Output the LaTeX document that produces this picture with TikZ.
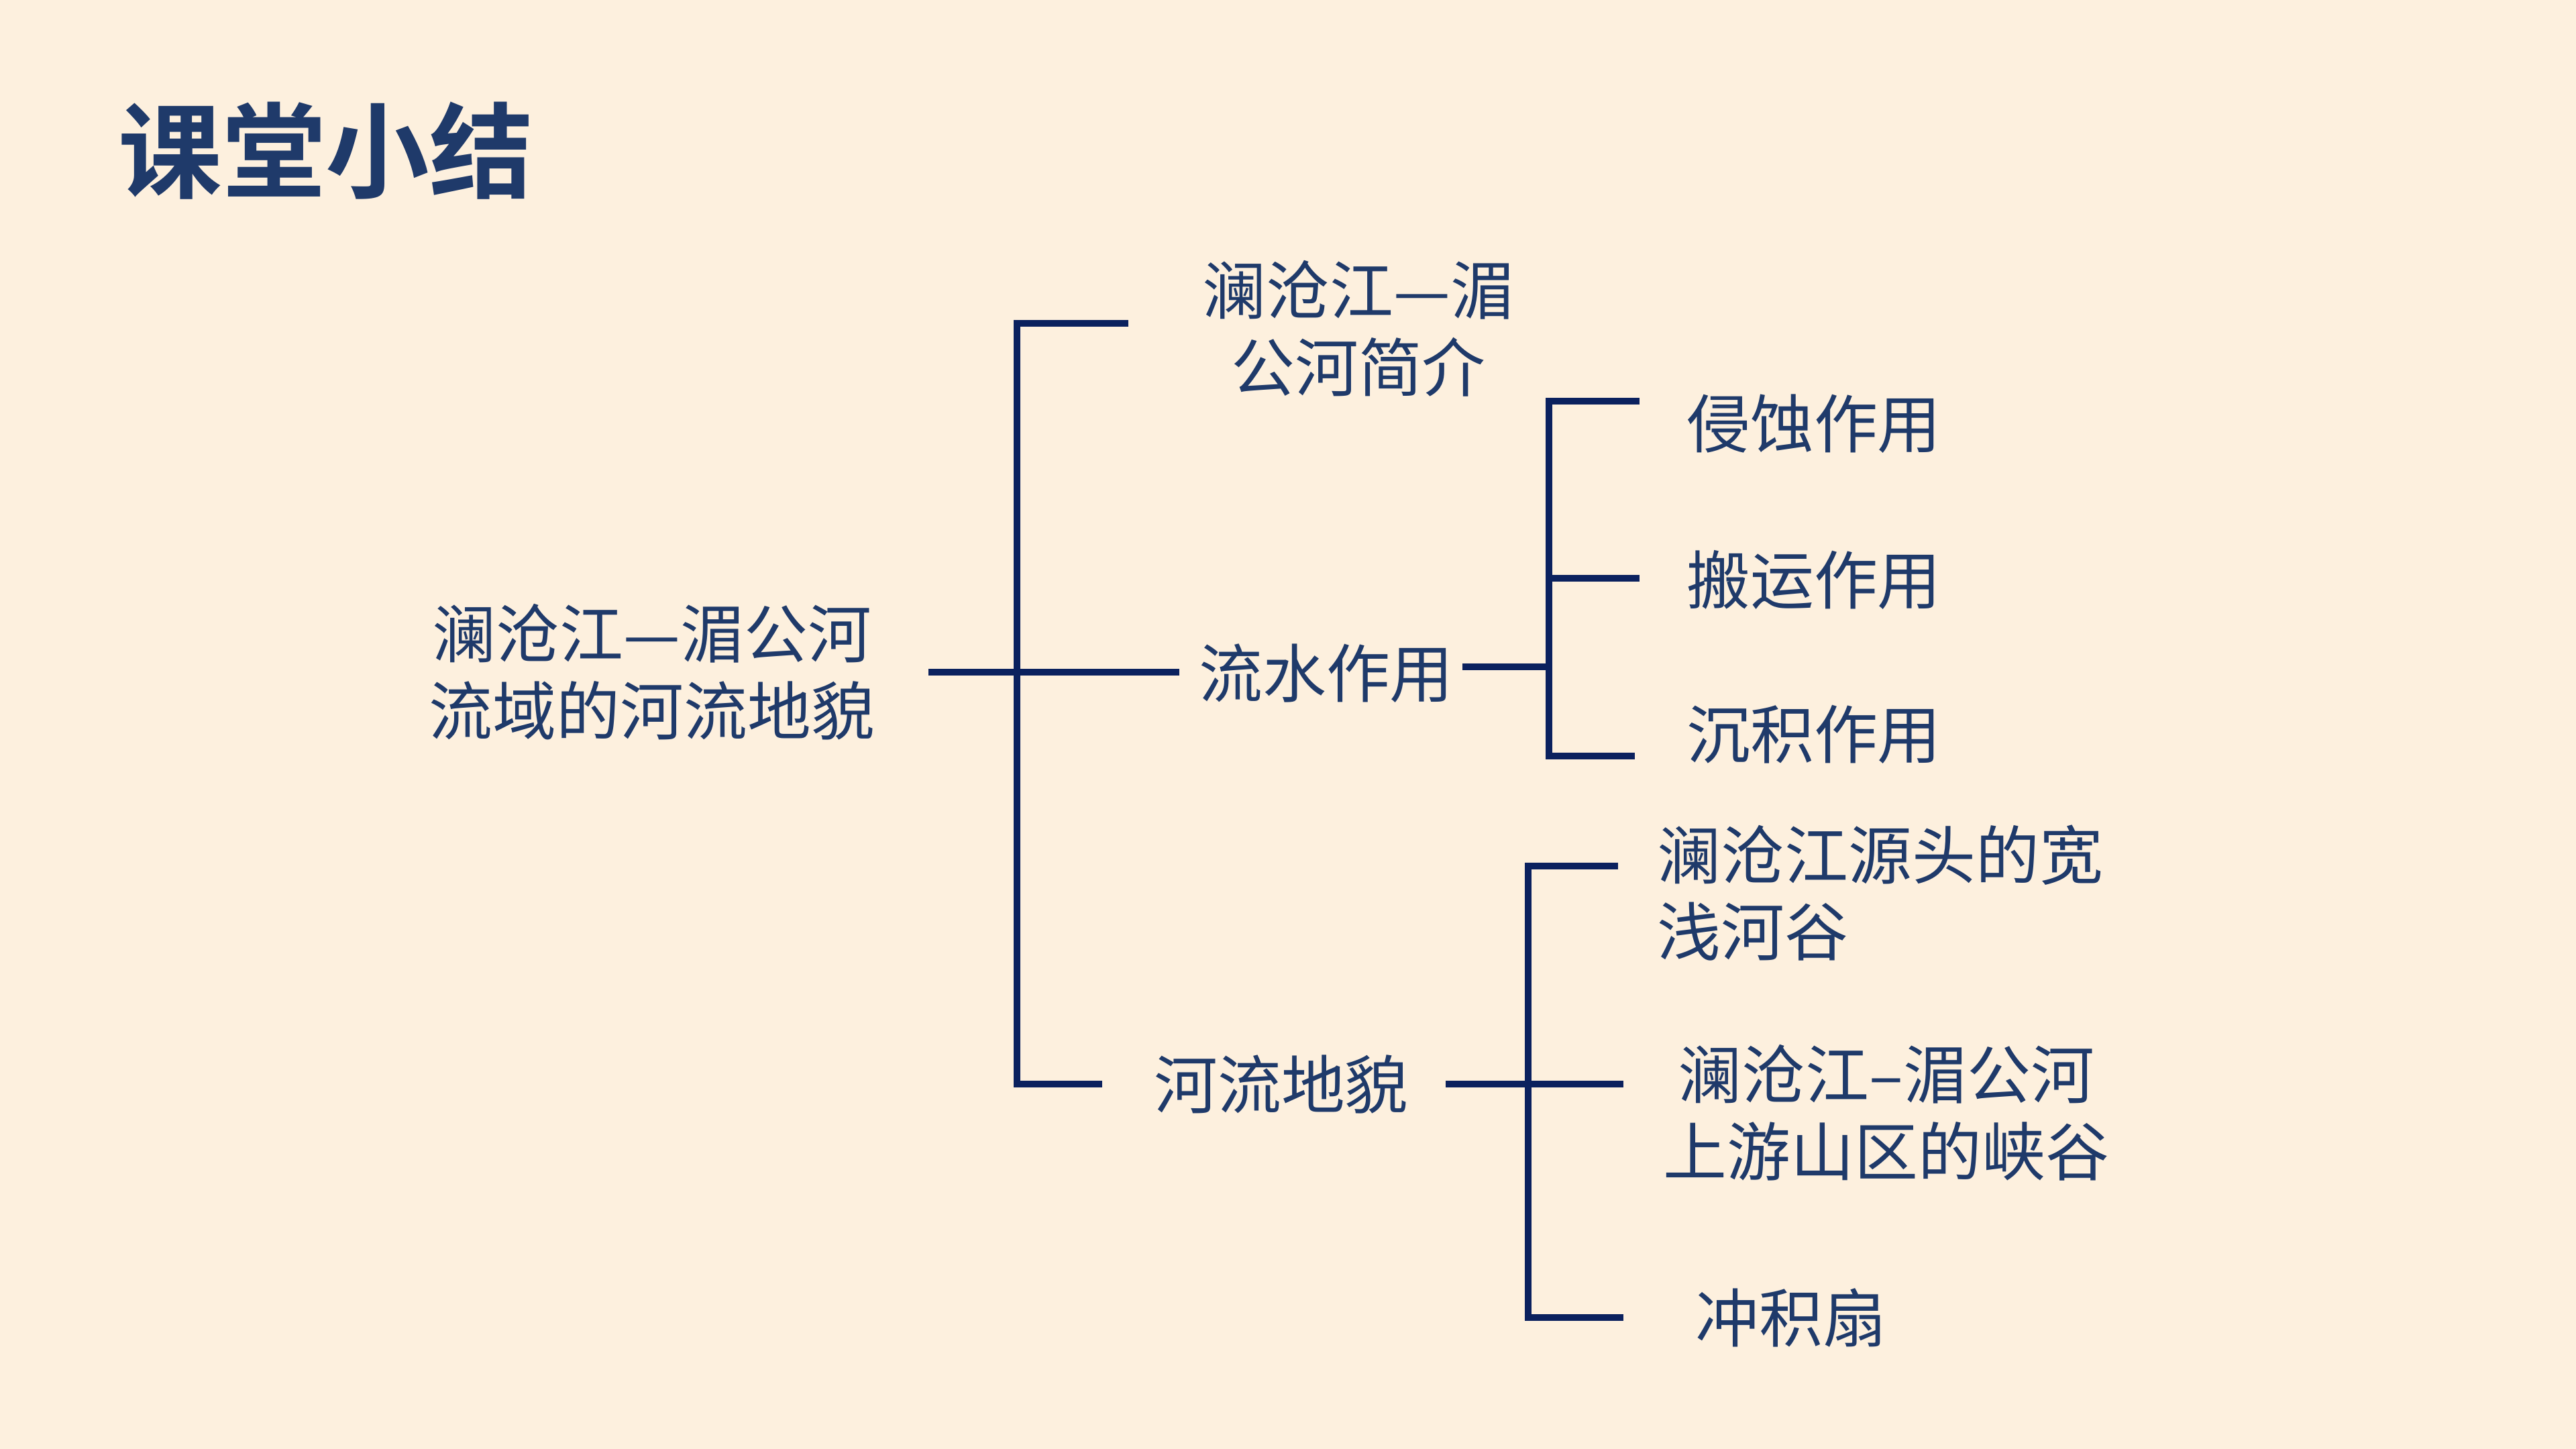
\documentclass[tikz,border=0pt]{standalone}
\usepackage{fontspec}
\newfontfamily\cjk{Noto Sans CJK SC}
\newfontfamily\cjkbold{Noto Sans CJK SC Bold}
\definecolor{bgc}{HTML}{FDF0DE}
\definecolor{txtc}{HTML}{1F3A6A}
\definecolor{linec}{HTML}{0B215E}
\begin{document}
\begin{tikzpicture}[
  lbl/.style={text=txtc, font=\cjk\fontsize{27}{32.7}\selectfont, inner sep=0pt, align=center},
  ttl/.style={text=txtc, font=\cjkbold\fontsize{44}{52}\selectfont, inner sep=0pt},
  conn/.style={draw=linec, line width=2.6pt}
]
\fill[bgc] (0,0) rectangle (38.4,-21.6);
\useasboundingbox (0,0) rectangle (38.4,-21.6);

% texts
\node[ttl, anchor=west] (title) at (1.76,-2.25) {课堂小结};
\node[lbl] (root) at (9.72,-10.02) {澜沧江—湄公河\\流域的河流地貌};
\node[lbl] (intro) at (20.25,-4.90) {澜沧江—湄\\公河简介};
\node[lbl] (flow) at (19.77,-10.04) {流水作用};
\node[lbl] (land) at (19.10,-16.16) {河流地貌};
\node[lbl] (c1) at (27.04,-6.32) {侵蚀作用};
\node[lbl] (c2) at (27.04,-8.64) {搬运作用};
\node[lbl] (c3) at (27.04,-10.95) {沉积作用};
\node[lbl, align=left, anchor=west] (d1) at (24.70,-13.31) {澜沧江源头的宽\\浅河谷};
\node[lbl] (d2) at (28.12,-16.59) {澜沧江–湄公河\\上游山区的峡谷};
\node[lbl] (d3) at (26.70,-19.64) {冲积扇};

% junction coordinates
\coordinate (rootR) at (13.84,-10.02);
\coordinate (flowL) at (17.58,-10.02);
\coordinate (mTop) at (15.16,-4.82);
\coordinate (introL) at (16.82,-4.82);
\coordinate (mBot) at (15.16,-16.16);
\coordinate (landL) at (16.43,-16.16);

\coordinate (flowR) at (21.80,-9.94);
\coordinate (fJ) at (23.09,-9.94);
\coordinate (fTop) at (23.09,-5.98);
\coordinate (fMid) at (23.09,-8.62);
\coordinate (fBot) at (23.09,-11.27);
\coordinate (c1L) at (24.44,-5.98);
\coordinate (c2L) at (24.44,-8.62);
\coordinate (c3L) at (24.37,-11.27);

\coordinate (landR) at (21.55,-16.16);
\coordinate (d2L) at (24.20,-16.16);
\coordinate (lTop) at (22.78,-12.91);
\coordinate (lBot) at (22.78,-19.64);
\coordinate (d1L) at (24.12,-12.91);
\coordinate (d3L) at (24.20,-19.64);

% connectors
\draw[conn] (rootR) -- (flowL);
\draw[conn] (introL) -- (mTop) -- (mBot) -- (landL);

\draw[conn] (flowR) -- (fJ);
\draw[conn] (c1L) -- (fTop) -- (fBot) -- (c3L);
\draw[conn] (fMid) -- (c2L);

\draw[conn] (landR) -- (d2L);
\draw[conn] (d1L) -- (lTop) -- (lBot) -- (d3L);
\end{tikzpicture}
\end{document}
